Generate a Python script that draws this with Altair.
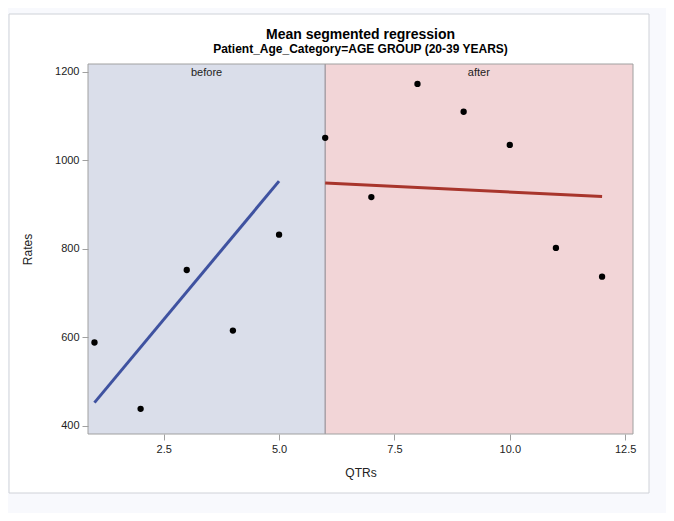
import altair as alt
import pandas as pd

# Observed means
qtrs = [1, 2, 3, 4, 5, 6, 7, 8, 9, 10, 11, 12]
rates = [588, 438, 752, 615, 832, 1051, 917, 1173, 1110, 1035, 802, 737]

# Fitted segments (endpoints)
seg_names = ["before", "before", "after", "after"]
seg_x = [1, 5, 6, 12]
seg_y = [452, 953, 949, 918]

# Regions
region_names = ["before", "after"]
region_start = [0.86, 6.0]
region_end = [6.0, 12.67]
region_label_x = [3.43, 9.33]

x_domain = [0.86, 12.67]
y_domain = [381, 1218]
x_ticks = [2.5, 5.0, 7.5, 10.0, 12.5]
y_ticks = [400, 600, 800, 1000, 1200]

W, H = 545, 370

pts = pd.DataFrame({"QTRs": qtrs, "Rates": rates})
segs = pd.DataFrame({"seg": seg_names, "QTRs": seg_x, "Rates": seg_y})
regs = pd.DataFrame({
    "region": region_names,
    "x0": region_start,
    "x1": region_end,
    "lx": region_label_x,
    "y0": [y_domain[0]] * 2,
    "y1": [y_domain[1]] * 2,
})
border = pd.DataFrame({"x0": [x_domain[0]], "x1": [x_domain[1]],
                       "y0": [y_domain[0]], "y1": [y_domain[1]]})

xs = alt.Scale(domain=x_domain, nice=False, zero=False)
ys = alt.Scale(domain=y_domain, nice=False, zero=False)

xaxis = alt.Axis(values=x_ticks, format=".1f", title="QTRs", grid=False, zindex=2)
yaxis = alt.Axis(values=y_ticks, format="d", title="Rates", grid=False, zindex=2)

frame = alt.Chart(pd.DataFrame({"a": [0]})).mark_rect(
    fill="white", stroke="#cfd2d8", strokeWidth=1
).encode(
    x=alt.value(-79), x2=alt.value(561), y=alt.value(-50), y2=alt.value(429)
)

bands = alt.Chart(regs).mark_rect(opacity=1).encode(
    x=alt.X("x0:Q", scale=xs, axis=xaxis),
    x2="x1",
    y=alt.Y("y0:Q", scale=ys, axis=yaxis),
    y2="y1",
    color=alt.Color("region:N",
                    scale=alt.Scale(domain=["before", "after"],
                                    range=["#dadeea", "#f2d5d7"]),
                    legend=None),
)

divider = alt.Chart(pd.DataFrame({"x": [6.0]})).mark_rule(
    color="#a8a0a6", strokeWidth=1.5
).encode(x=alt.X("x:Q", scale=xs))

outline = alt.Chart(border).mark_rect(
    fill=None, fillOpacity=0, stroke="#a0a0a0", strokeWidth=1
).encode(
    x=alt.X("x0:Q", scale=xs), x2="x1",
    y=alt.Y("y0:Q", scale=ys), y2="y1",
)

lines = alt.Chart(segs).mark_line(strokeWidth=3).encode(
    x=alt.X("QTRs:Q", scale=xs),
    y=alt.Y("Rates:Q", scale=ys),
    detail="seg:N",
    color=alt.Color("seg:N",
                    scale=alt.Scale(domain=["before", "after"],
                                    range=["#3f52a0", "#a8352c"]),
                    legend=None),
)

points = alt.Chart(pts).mark_circle(size=40, color="black", opacity=1).encode(
    x=alt.X("QTRs:Q", scale=xs),
    y=alt.Y("Rates:Q", scale=ys),
)

labels = alt.Chart(regs).mark_text(
    baseline="top", fontSize=11, color="#222", font="Liberation Sans"
).encode(
    x=alt.X("lx:Q", scale=xs),
    y=alt.value(3),
    text="region:N",
)

chart = alt.layer(frame, bands, divider, outline, lines, points, labels).resolve_scale(
    color="independent"
).properties(
    width=W,
    height=H,
    title=alt.TitleParams(
        text="Mean segmented regression",
        subtitle="Patient_Age_Category=AGE GROUP (20-39 YEARS)",
        fontSize=14, fontWeight="bold", font="Liberation Sans", color="black",
        subtitleFontSize=12, subtitleFontWeight="bold",
        subtitleFont="Liberation Sans", subtitleColor="black",
        anchor="middle", offset=-41, subtitlePadding=2, frame="group", zindex=2,
    ),
    background="#f8f9fd",
    padding={"left": 80, "top": 56, "right": 33, "bottom": 79},
    autosize=alt.AutoSizeParams(type="none"),
).configure_view(
    stroke=None
).configure_axis(
    labelFont="Liberation Sans", titleFont="Liberation Sans",
    labelFontSize=11, titleFontSize=12, titleFontWeight="normal",
    labelColor="#222", titleColor="#222",
    domain=False, tickColor="#a0a0a0", tickSize=6,
    labelPadding=3,
).configure_axisX(titlePadding=13).configure_axisY(titlePadding=20)

chart.save("out.html", embed_options={"renderer": "svg", "actions": False})
